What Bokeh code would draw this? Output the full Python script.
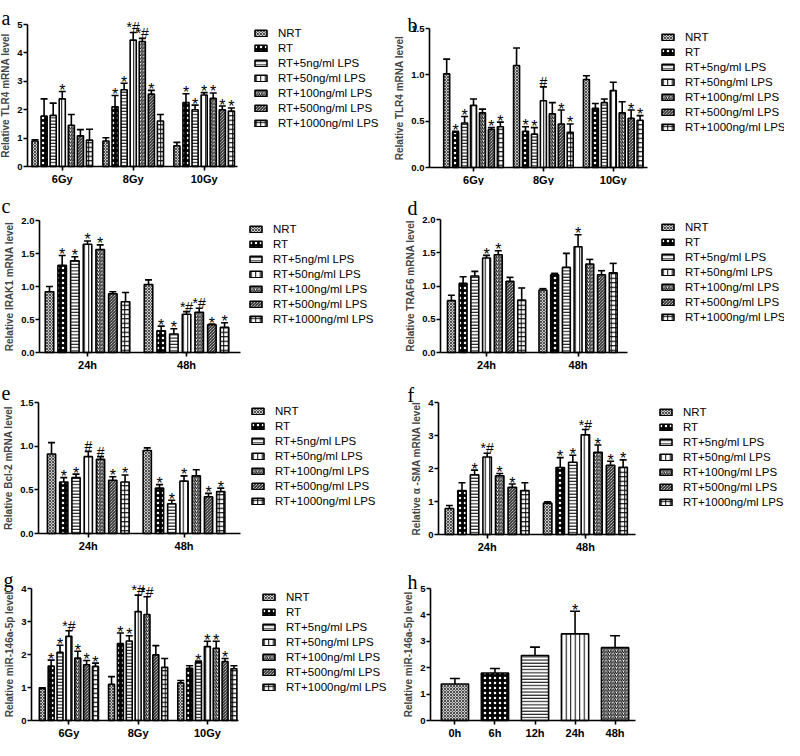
from bokeh.plotting import figure
from bokeh.models import (ColumnDataSource, Range1d, FixedTicker, Whisker, TeeHead,
                          Legend, LegendItem, Label, NumeralTickFormatter)
from bokeh.layouts import gridplot
from bokeh.embed import file_html
from bokeh.resources import INLINE
from bokeh.core.properties import value

# ---------------- data ----------------
SERIES = ["NRT", "RT", "RT+5ng/ml LPS", "RT+50ng/ml LPS", "RT+100ng/ml LPS",
          "RT+500ng/ml LPS", "RT+1000ng/ml LPS"]
DOSES = ["6Gy", "8Gy", "10Gy"]
TIMES = ["24h", "48h"]
H_TIMES = ["0h", "6h", "12h", "24h", "48h"]

A_MEAN = [[0.90, 1.78, 1.80, 2.38, 1.45, 1.08, 0.93],
          [0.90, 2.10, 2.70, 4.45, 4.40, 2.55, 1.60],
          [0.73, 2.25, 2.00, 2.52, 2.40, 2.00, 1.95]]
A_ERR = [[0.04, 0.60, 0.43, 0.26, 0.38, 0.22, 0.38],
         [0.11, 0.40, 0.23, 0.27, 0.11, 0.13, 0.23],
         [0.12, 0.31, 0.16, 0.08, 0.19, 0.13, 0.11]]
A_SIG = [["", "", "", "*", "", "", ""],
         ["", "*", "*", "*#", "*#", "*", ""],
         ["", "*", "*", "*", "*", "*", "*"]]

B_MEAN = [[1.01, 0.38, 0.48, 0.67, 0.59, 0.41, 0.44],
          [1.10, 0.39, 0.36, 0.72, 0.58, 0.47, 0.38],
          [0.95, 0.64, 0.70, 0.83, 0.59, 0.53, 0.51]]
B_ERR = [[0.16, 0.01, 0.07, 0.07, 0.04, 0.02, 0.05],
         [0.19, 0.05, 0.07, 0.15, 0.12, 0.15, 0.09],
         [0.04, 0.05, 0.04, 0.09, 0.12, 0.09, 0.05]]
B_SIG = [["", "*", "*", "", "", "*", "*"],
         ["", "*", "*", "#", "", "*", "*"],
         ["", "", "", "", "", "*", "*"]]

C_MEAN = [[0.92, 1.32, 1.39, 1.64, 1.56, 0.89, 0.77],
          [1.03, 0.33, 0.28, 0.58, 0.61, 0.42, 0.38]]
C_ERR = [[0.08, 0.15, 0.06, 0.05, 0.07, 0.03, 0.14],
         [0.07, 0.07, 0.08, 0.04, 0.06, 0.01, 0.07]]
C_SIG = [["", "*", "*", "*", "*", "", ""],
         ["", "*", "*", "*#", "*#", "*", "*"]]

D_MEAN = [[0.78, 1.04, 1.15, 1.42, 1.47, 1.07, 0.79],
          [0.94, 1.17, 1.28, 1.59, 1.33, 1.17, 1.20]]
D_ERR = [[0.08, 0.10, 0.07, 0.04, 0.06, 0.06, 0.18],
         [0.02, 0.02, 0.21, 0.18, 0.07, 0.06, 0.14]]
D_SIG = [["", "", "", "*", "*", "", ""],
         ["", "", "", "*", "", "", ""]]

E_MEAN = [[0.91, 0.59, 0.64, 0.88, 0.85, 0.61, 0.59],
          [0.95, 0.52, 0.34, 0.60, 0.66, 0.42, 0.48]]
E_ERR = [[0.13, 0.05, 0.04, 0.06, 0.03, 0.04, 0.08],
         [0.03, 0.04, 0.04, 0.06, 0.07, 0.04, 0.04]]
E_SIG = [["", "*", "*", "#", "#", "*", "*"],
         ["", "*", "*", "*", "", "*", "*"]]

F_MEAN = [[0.79, 1.33, 1.81, 2.35, 1.78, 1.43, 1.33],
          [0.95, 2.03, 2.19, 3.02, 2.49, 2.10, 2.04]]
F_ERR = [[0.09, 0.24, 0.14, 0.11, 0.07, 0.10, 0.24],
         [0.04, 0.30, 0.21, 0.16, 0.22, 0.12, 0.22]]
F_SIG = [["", "", "*", "*#", "*", "*", ""],
         ["", "*", "*", "*#", "*", "*", "*"]]

G_MEAN = [[0.97, 1.65, 2.07, 2.55, 1.89, 1.69, 1.64],
          [1.10, 2.33, 2.41, 3.30, 3.21, 1.99, 1.61],
          [1.14, 1.58, 1.77, 2.24, 2.19, 1.79, 1.57]]
G_ERR = [[0.02, 0.18, 0.21, 0.17, 0.21, 0.13, 0.10],
         [0.23, 0.32, 0.16, 0.50, 0.54, 0.28, 0.27],
         [0.07, 0.08, 0.03, 0.16, 0.21, 0.09, 0.09]]
G_SIG = [["", "*", "*", "*#", "*", "*", "*"],
         ["", "*", "*", "*#", "*#", "", ""],
         ["", "", "*", "*", "*", "*", ""]]

H_MEAN = [1.38, 1.80, 2.46, 3.28, 2.76]
H_ERR = [0.21, 0.17, 0.32, 0.86, 0.45]
H_SIG = ["", "", "", "*", ""]

# ---------------- style ----------------
PW, PH = 392, 185
PITCH, BAR_W = 0.128, 0.086
LW = 1.6
SANS = "Liberation Sans"

HATCH = [
    dict(fill_color="#c8c8c8", hatch_color="black", hatch_pattern="diagonal_cross", hatch_scale=3.0, hatch_weight=0.6),
    dict(fill_color="black", hatch_color="white", hatch_pattern="dot", hatch_scale=5.0, hatch_weight=2.0),
    dict(fill_color="white", hatch_color="black", hatch_pattern="horizontal_line", hatch_scale=3.2, hatch_weight=1.0),
    dict(fill_color="white", hatch_color="black", hatch_pattern="vertical_line", hatch_scale=4.5, hatch_weight=1.0),
    dict(fill_color="white", hatch_color="black", hatch_pattern="right_diagonal_line", hatch_scale=3.5, hatch_weight=1.0),
    dict(fill_color="white", hatch_color="black", hatch_pattern="left_diagonal_line", hatch_scale=3.0, hatch_weight=1.0),
    dict(fill_color="white", hatch_color="black", hatch_pattern="cross", hatch_scale=4.5, hatch_weight=1.0),
]


def base(letter, frame, letter_pos, xr, ytop, yticks, yfmt, ylabel, groups):
    # frame = pixel box (left, right, top, bottom) of the axes inside the panel
    L, R, T, B = frame
    x0, x1 = xr
    kx = (R - L) / (x1 - x0)
    ky = (B - T) / ytop
    p = figure(width=PW, height=PH, output_backend="svg", toolbar_location=None,
               x_range=Range1d(x0 - L / kx, x1 + (PW - R) / kx),
               y_range=Range1d(-(PH - B) / ky, ytop + T / ky),
               min_border=0)
    p.outline_line_color = None
    p.xgrid.visible = False
    p.ygrid.visible = False
    p.xaxis.fixed_location = 0
    p.xaxis.bounds = (x0, x1)
    p.yaxis.fixed_location = x0
    p.yaxis.bounds = (0, ytop)
    for ax in (p.xaxis[0], p.yaxis[0]):
        ax.axis_line_width = LW
        ax.major_tick_line_width = LW
        ax.minor_tick_line_color = None
        ax.major_tick_in = 0
        ax.major_tick_out = 4
        ax.major_label_standoff = 1
        ax.major_label_text_font = SANS
        ax.major_label_text_font_style = "bold"
        ax.major_label_text_color = "black"
    p.xaxis.major_label_standoff = 2
    p.xaxis.ticker = FixedTicker(ticks=list(range(1, len(groups) + 1)))
    p.xaxis.major_label_overrides = {i + 1: g for i, g in enumerate(groups)}
    p.xaxis.major_label_text_font_size = "11px"
    p.yaxis.ticker = FixedTicker(ticks=yticks)
    p.yaxis.formatter = NumeralTickFormatter(format=yfmt)
    p.yaxis.major_label_text_font_size = "9.5px"
    p.yaxis.axis_label = ylabel
    p.yaxis.axis_label_text_font = SANS
    p.yaxis.axis_label_text_font_style = "bold"
    p.yaxis.axis_label_text_font_size = "10px"
    p.yaxis.axis_label_standoff = 3
    lx, lb = letter_pos
    p.add_layout(Label(x=lx, y=PH - lb, x_units="screen", y_units="screen",
                       text=letter, text_font="Liberation Serif", text_font_size="20px",
                       text_baseline="alphabetic", text_align="left", text_color="black"))
    return p


def add_sig(p, xs, ys, sigs):
    star = dict(x=[], y=[], t=[])
    hash_ = dict(x=[], y=[], t=[])
    for x, y, s in zip(xs, ys, sigs):
        if not s:
            continue
        d = hash_ if "#" in s else star
        d["x"].append(x); d["y"].append(y); d["t"].append(s)
    if star["x"]:
        p.text(x="x", y="y", text="t", source=ColumnDataSource(star), text_align="center",
               text_baseline="alphabetic", y_offset=-1, text_font=value(SANS),
               text_font_size="16px", text_color="black")
    if hash_["x"]:
        p.text(x="x", y="y", text="t", source=ColumnDataSource(hash_), text_align="center",
               text_baseline="alphabetic", y_offset=-5, text_font=value(SANS),
               text_font_size="14px", text_color="black")


def grouped(letter, groups, means, errs, sigs, ylabel, ytop, yticks, yfmt, xr,
            frame, leg, letter_pos):
    p = base(letter, frame, letter_pos, xr, ytop, yticks, yfmt, ylabel, groups)
    items = []
    sx, sy, ss = [], [], []
    for i, name in enumerate(SERIES):
        xs = [g + 1 + (i - 3) * PITCH for g in range(len(groups))]
        tops = [means[g][i] for g in range(len(groups))]
        ups = [means[g][i] + errs[g][i] for g in range(len(groups))]
        src = ColumnDataSource(dict(x=xs, top=tops, upper=ups))
        r = p.vbar(x="x", top="top", width=BAR_W, source=src, line_color="black",
                   line_width=LW, **HATCH[i])
        p.add_layout(Whisker(base="x", lower="top", upper="upper", source=src,
                             line_width=LW, line_color="black",
                             upper_head=TeeHead(size=7, line_width=LW, line_color="black"),
                             lower_head=None))
        items.append(LegendItem(label=name, renderers=[r]))
        sx += xs; sy += ups; ss += [sigs[g][i] for g in range(len(groups))]
    add_sig(p, sx, sy, ss)
    gx, gy = leg
    row, sp, n = 12, 3, len(SERIES)
    lh = n * row + (n - 1) * sp
    bottom = gy - row / 2 + lh
    legend = Legend(items=items, location=(gx, PH - bottom),
                    label_text_font=SANS, label_text_font_size="11.5px",
                    label_text_color="black", glyph_width=15, glyph_height=8,
                    label_standoff=10, spacing=sp, label_height=row, padding=0,
                    margin=0, border_line_color=None, background_fill_alpha=0)
    p.add_layout(legend)
    return p


pa = grouped("a", DOSES, A_MEAN, A_ERR, A_SIG, "Relative TLR4 mRNA level", 5,
             [0, 1, 2, 3, 4, 5], "0", (0.51, 3.47), (27, 237, 24, 166), (253, 33), (1, 17))
pb = grouped("b", DOSES, B_MEAN, B_ERR, B_SIG, "Relative TLR4 mRNA level", 1.5,
             [0, 0.5, 1.0, 1.5], "0.0", (0.37, 3.49), (37, 255, 28, 167), (268, 37), (15, 24))
pc = grouped("c", TIMES, C_MEAN, C_ERR, C_SIG, "Relative IRAK1 mRNA level", 2.0,
             [0, 0.5, 1.0, 1.5, 2.0], "0.0", (0.515, 2.545), (39, 240, 35, 167), (248, 44), (1, 20))
pd_ = grouped("d", TIMES, D_MEAN, D_ERR, D_SIG, "Relative TRAF6 mRNA level", 2.0,
              [0, 0.5, 1.0, 1.5, 2.0], "0.0", (0.497, 2.54), (48, 235, 34, 167), (268, 42), (15, 22))
pe = grouped("e", TIMES, E_MEAN, E_ERR, E_SIG, "Relative Bcl-2 mRNA level", 1.5,
             [0, 0.5, 1.0, 1.5], "0.0", (0.48, 2.59), (38, 240, 32, 163), (250, 41), (1, 22))
pf = grouped("f", TIMES, F_MEAN, F_ERR, F_SIG, "Relative \u03b1 -SMA mRNA level", 4,
             [0, 1, 2, 3, 4], "0", (0.505, 2.51), (46, 243, 32, 164), (266, 42), (15, 24))
pg = grouped("g", DOSES, G_MEAN, G_ERR, G_SIG, "Relative miR-146a-5p level", 4,
             [0, 1, 2, 3, 4], "0", (0.46, 3.45), (31, 238, 33, 165), (261, 42), (3, 24))

# panel h
ph = base("h", (38, 243, 33, 165), (15, 26), (0.39, 5.51), 5, [0, 1, 2, 3, 4, 5], "0",
          "Relative miR-146a-5p level", H_TIMES)
hx, hy = [], []
for i, t in enumerate(H_TIMES):
    src = ColumnDataSource(dict(x=[i + 1], top=[H_MEAN[i]], upper=[H_MEAN[i] + H_ERR[i]]))
    ph.vbar(x="x", top="top", width=0.68, source=src, line_color="black", line_width=LW, **HATCH[i])
    ph.add_layout(Whisker(base="x", lower="top", upper="upper", source=src,
                          line_width=LW, line_color="black",
                          upper_head=TeeHead(size=10, line_width=LW, line_color="black"),
                          lower_head=None))
    hx.append(i + 1); hy.append(H_MEAN[i] + H_ERR[i])
add_sig(ph, hx, hy, H_SIG)

grid = gridplot([[pa, pb], [pc, pd_], [pe, pf], [pg, ph]], toolbar_location=None)
open("out.html", "w").write(file_html(grid, INLINE))
